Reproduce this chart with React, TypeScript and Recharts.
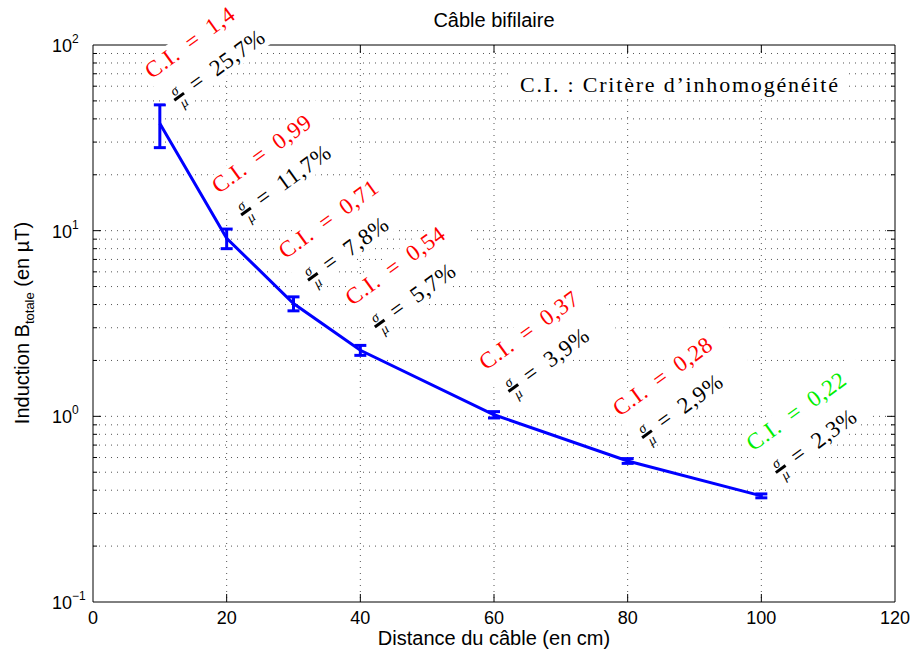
import React from 'react';
import { ComposedChart, Line, XAxis, YAxis, ReferenceLine, ReferenceArea, ErrorBar, LabelList } from 'recharts';

// mesures : distance au câble (cm) et induction (µT)
const distances = [10, 20, 30, 40, 60, 80, 100];
const induction = [37.8, 9.1, 4.05, 2.27, 1.02, 0.575, 0.373];
const ecarts = [9.8, 1.1, 0.35, 0.14, 0.04, 0.017, 0.009];
const ciLabels = ['1,4', '0,99', '0,71', '0,54', '0,37', '0,28', '0,22'];
const cvLabels = ['25,7', '11,7', '7,8', '5,7', '3,9', '2,9', '2,3'];
const ciColors = ['#ff0000', '#ff0000', '#ff0000', '#ff0000', '#ff0000', '#ff0000', '#00ee00'];

const xTicks = [0, 20, 40, 60, 80, 100, 120];
const xGrid = [20, 40, 60, 80, 100];
const yTicks = [0.1, 1, 10, 100];
const yExponents = ['\u22121', '0', '1', '2'];
const yGrid = [0.2, 0.3, 0.4, 0.5, 0.6, 0.7, 0.8, 0.9, 1, 2, 3, 4, 5, 6, 7, 8, 9, 10, 20, 30, 40, 50, 60, 70, 80, 90];

const data = distances.map((d, i) => ({
  x: d,
  y: induction[i],
  err: ecarts[i],
  ci: ciLabels[i],
}));

const SANS = '"Liberation Sans", Arial, Helvetica, sans-serif';
const SERIF = '"Liberation Serif", "DejaVu Serif", serif';
const EQ = '\u2002=\u2002';

const hGrid = (major: boolean) => (p: any) => {
  const left = Math.min(p.x1, p.x2);
  const right = Math.max(p.x1, p.x2);
  const len = major ? 8 : 4;
  return (
    <g>
      <line x1={left} x2={right} y1={p.y1} y2={p.y1} stroke="#555" strokeWidth={1} strokeDasharray="1 5" />
      <line x1={left} x2={left + len} y1={p.y1} y2={p.y1} stroke="#000" strokeWidth={1} />
      <line x1={right - len} x2={right} y1={p.y1} y2={p.y1} stroke="#000" strokeWidth={1} />
    </g>
  );
};

const vGrid = (p: any) => {
  const top = Math.min(p.y1, p.y2);
  const bottom = Math.max(p.y1, p.y2);
  return (
    <g>
      <line x1={p.x1} x2={p.x1} y1={top} y2={bottom} stroke="#555" strokeWidth={1} strokeDasharray="1 5" />
      <line x1={p.x1} x2={p.x1} y1={top} y2={top + 8} stroke="#000" strokeWidth={1} />
      <line x1={p.x1} x2={p.x1} y1={bottom - 8} y2={bottom} stroke="#000" strokeWidth={1} />
    </g>
  );
};

const XTick = (props: any) => {
  const { x, y, payload } = props;
  return (
    <text x={x} y={y + 22} textAnchor="middle" fontFamily={SANS} fontSize={18} fill="#000">
      {payload.value}
    </text>
  );
};

const YTick = (props: any) => {
  const { x, y, payload } = props;
  const i = yTicks.indexOf(payload.value);
  return (
    <text x={x - 41} y={y + 7} fontFamily={SANS} fontSize={18} fill="#000">
      10
      <tspan dy={-9} fontSize={12}>{yExponents[i]}</tspan>
    </text>
  );
};

const Annotation = (props: any) => {
  const vb = props.viewBox || {};
  const x = props.x ?? vb.x;
  const y = props.y ?? vb.y;
  let i = typeof props.index === 'number' ? props.index : ciLabels.indexOf(props.value);
  if (i < 0) i = 0;
  return (
    <g transform={`translate(${x - 8},${y - 44}) rotate(-36)`}>
      <rect x={-3} y={-19} width={140} height={60} fill="#fff" />
      <text x={0} y={0} fontFamily={SERIF} fontSize={23} letterSpacing={0.6} fill={ciColors[i]}>
        {`C.I.${EQ}${ciLabels[i]}`}
      </text>
      <text x={8} y={27} fontFamily={SERIF} fontSize={14} fontStyle="italic" fill="#000">σ</text>
      <line x1={6} x2={18} y1={30} y2={30} stroke="#000" strokeWidth={3} />
      <text x={9} y={42} fontFamily={SERIF} fontSize={14} fontStyle="italic" fill="#000">μ</text>
      <text x={28} y={36} fontFamily={SERIF} fontSize={23} letterSpacing={0.6} fill="#000">
        {`=\u2002${cvLabels[i]}%`}
      </text>
    </g>
  );
};

export default function App() {
  return (
    <div style={{ position: 'absolute', left: 0, top: 0, width: 913, height: 656, background: '#fff' }}>
      <ComposedChart width={913} height={656} data={data} margin={{ top: 45, right: 18, left: 0, bottom: 0 }}>
        <XAxis
          dataKey="x"
          type="number"
          domain={[0, 120]}
          ticks={xTicks}
          height={54}
          tickSize={0}
          tickMargin={0}
          axisLine={false}
          tickLine={false}
          tick={<XTick />}
          allowDataOverflow
        />
        <YAxis
          type="number"
          scale="log"
          domain={[0.1, 100]}
          ticks={yTicks}
          width={93}
          tickSize={0}
          tickMargin={0}
          axisLine={false}
          tickLine={false}
          tick={<YTick />}
          allowDataOverflow
        />
        {yGrid.map((v) => (
          <ReferenceLine key={`h${v}`} y={v} shape={hGrid(v === 1 || v === 10)} />
        ))}
        {xGrid.map((v) => (
          <ReferenceLine key={`v${v}`} x={v} shape={vGrid} />
        ))}
        <ReferenceArea x1={0} x2={120} y1={0.1} y2={100} fill="none" fillOpacity={0} stroke="#000" strokeWidth={1} />
        <Line
          dataKey="y"
          stroke="#0000ff"
          strokeWidth={3}
          dot={false}
          activeDot={false}
          isAnimationActive={false}
        >
          <ErrorBar dataKey="err" direction="y" width={6} strokeWidth={3} stroke="#0000ff" isAnimationActive={false} />
          <LabelList dataKey="ci" content={<Annotation />} />
        </Line>
      </ComposedChart>
      <svg width={913} height={656} style={{ position: 'absolute', left: 0, top: 0, pointerEvents: 'none' }}>
        <text x={494} y={27} textAnchor="middle" fontFamily={SANS} fontSize={20} fill="#000">
          Câble bifilaire
        </text>
        <rect x={513} y={65} width={332} height={34} fill="#fff" />
        <text x={520} y={92} fontFamily={SERIF} fontSize={22} letterSpacing={1.8} fill="#000">
          C.I. : Critère d’inhomogénéité
        </text>
        <text x={494} y={645} textAnchor="middle" fontFamily={SANS} fontSize={20} fill="#000">
          Distance du câble (en cm)
        </text>
        <text transform="translate(29,323) rotate(-90)" textAnchor="middle" fontFamily={SANS} fontSize={20} fill="#000">
          Induction B
          <tspan dy={5} fontSize={13}>totale</tspan>
          <tspan dy={-5}>{' (en µT)'}</tspan>
        </text>
      </svg>
    </div>
  );
}
